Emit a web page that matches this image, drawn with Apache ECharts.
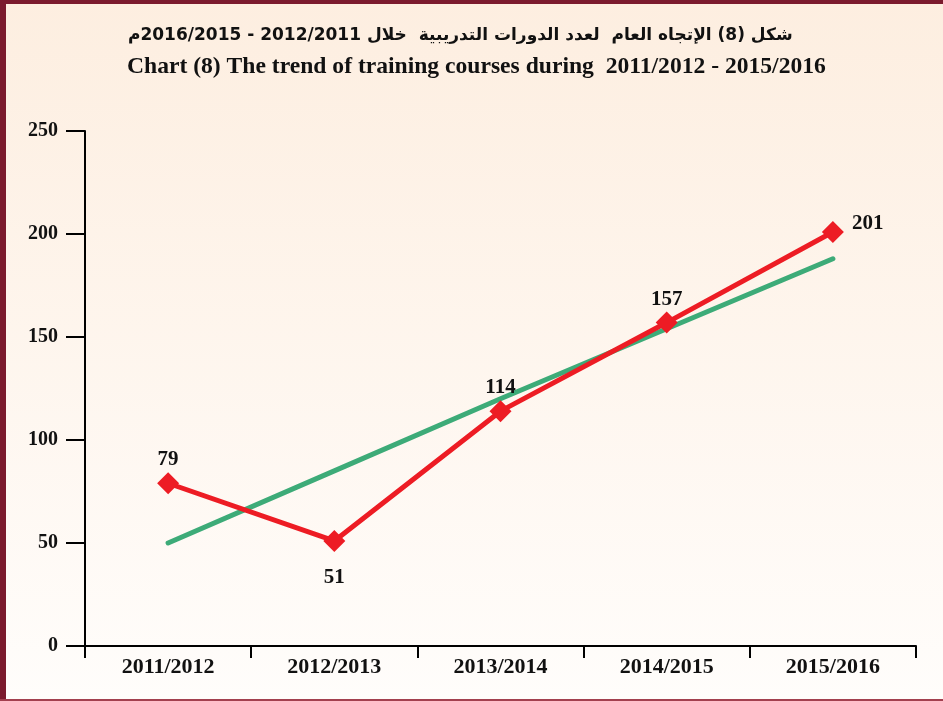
<!DOCTYPE html>
<html>
<head>
<meta charset="utf-8">
<script src="https://cdn.jsdelivr.net/npm/echarts@6/dist/echarts.min.js"></script>
<style>
	html, body { margin: 0; padding: 0; }
	#chart { width: 943px; height: 701px; }
</style>
</head>
<body>
<div id="chart"></div>
<script>
const categories = ['2011/2012', '2012/2013', '2013/2014', '2014/2015', '2015/2016']
const courses = [79, 51, 114, 157, 201]
// trend line (green)
const trend = [50, 85, 120, 154, 188]
const yTicks = [0, 50, 100, 150, 200, 250]

// where each value label sits
const labelPos = ['top', 'bottom', 'top', 'top', 'right']

let chart = echarts.init(document.getElementById('chart'))
let option = {
	backgroundColor: {
		type: 'linear',
		x: 0, y: 0, x2: 0, y2: 1,
		colorStops: [
			{ offset: 0, color: '#fdeee0' },
			{ offset: 1, color: '#fffdfb' },
		],
	},
	title: [
		{
			text: 'شكل (8) الإتجاه العام  لعدد الدورات التدريبية  خلال 2012/2011 - 2016/2015م',
			left: 123,
			top: 22,
			textStyle: {
				fontFamily: 'DejaVu Sans',
				fontSize: 17,
				fontWeight: 'bold',
				color: '#111',
			},
		},
		{
			text: 'Chart (8) The trend of training courses during  2011/2012 - 2015/2016',
			left: 122,
			top: 50,
			textStyle: {
				fontFamily: 'Liberation Serif',
				fontSize: 23.6,
				fontWeight: 'bold',
				color: '#111',
			},
		},
	],
	graphic: [
		// frame: thick maroon on left and top, thin line at the bottom
		{ type: 'rect', shape: { x: 0, y: 0, width: 6, height: 701 }, style: { fill: '#7b1a2d' } },
		{ type: 'rect', shape: { x: 0, y: 0, width: 943, height: 4 }, style: { fill: '#7b1a2d' } },
		{ type: 'rect', shape: { x: 0, y: 699, width: 943, height: 2 }, style: { fill: '#a3404f' } },
	],
	grid: {
		left: 85,
		right: 27,
		top: 131,
		bottom: 55,
	},
	xAxis: {
		type: 'category',
		data: categories,
		boundaryGap: true,
		axisLine: { lineStyle: { color: '#000', width: 2 } },
		axisTick: { show: true, length: 12, lineStyle: { color: '#000', width: 2 } },
		axisLabel: {
			margin: 10,
			color: '#111',
			fontFamily: 'Liberation Serif',
			fontWeight: 'bold',
			fontSize: 22,
		},
	},
	yAxis: {
		type: 'value',
		min: yTicks[0],
		max: yTicks[yTicks.length - 1],
		interval: 50,
		axisLine: { show: true, lineStyle: { color: '#000', width: 2 } },
		axisTick: { show: true, length: 19, lineStyle: { color: '#000', width: 2 } },
		axisLabel: {
			margin: 27,
			color: '#111',
			fontFamily: 'Liberation Serif',
			fontWeight: 'bold',
			fontSize: 20,
		},
		splitLine: { show: false },
	},
	series: [
		{
			name: 'trend',
			type: 'line',
			data: trend,
			symbol: 'none',
			lineStyle: { color: '#3dab78', width: 5, cap: 'round' },
			z: 2,
		},
		{
			name: 'courses',
			type: 'line',
			data: courses.map((v, i) => ({
				value: v,
				label: {
					position: labelPos[i],
					distance: labelPos[i] === 'right' ? 8 : (labelPos[i] === 'top' ? 2 : 15),
					offset: labelPos[i] === 'right' ? [0, -8] : [0, 0],
				},
			})),
			symbol: 'diamond',
			symbolSize: 22,
			itemStyle: { color: '#ed1c24' },
			lineStyle: { color: '#ed1c24', width: 5 },
			label: {
				show: true,
				color: '#111',
				fontFamily: 'Liberation Serif',
				fontWeight: 'bold',
				fontSize: 21,
			},
			z: 3,
		},
	],
}
chart.setOption(option)
</script>
</body>
</html>
